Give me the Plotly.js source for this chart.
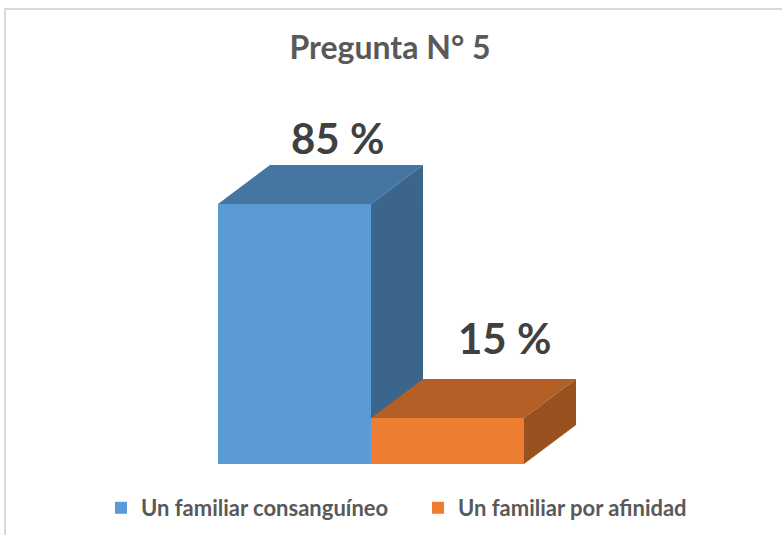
<!DOCTYPE html>
<html>
<head>
<meta charset="utf-8">
<script src="https://cdn.plot.ly/plotly-3.0.1.min.js"></script>
<style>html,body{margin:0;padding:0;background:#fff;}#chart{width:782px;height:535px;}</style>
</head>
<body>
<div id="chart"></div>
<script>
const categories = ["Un familiar consanguíneo", "Un familiar por afinidad"];
const values = [85, 15];
const valueLabels = ["85 %", "15 %"];
const frontColors = ["#5B9BD5", "#ED7D31"];
const topColors = ["#4576A2", "#B45F25"];
const sideColors = ["#3B658B", "#9A5120"];

// depth of the pseudo-3D box, in axis units
const dx = 0.34, dy = 12.75;

const traces = categories.map((c, i) => ({
  type: "bar",
  x: [i],
  y: [values[i]],
  width: 1,
  name: c,
  marker: {color: frontColors[i], line: {width: 0}},
  hoverinfo: "name+y"
}));

const shapes = [];
categories.forEach((c, i) => {
  const v = values[i], l = i - 0.5, r = i + 0.5;
  shapes.push({type: "path", xref: "x", yref: "y", layer: "below",
    path: `M${l},${v}L${r},${v}L${r+dx},${v+dy}L${l+dx},${v+dy}Z`,
    fillcolor: topColors[i], line: {width: 0}});
  shapes.push({type: "path", xref: "x", yref: "y", layer: "below",
    path: `M${r},0L${r},${v}L${r+dx},${v+dy}L${r+dx},${dy}Z`,
    fillcolor: sideColors[i], line: {width: 0}});
});
shapes.push({type: "rect", xref: "paper", yref: "paper",
  x0: 5/782, x1: 1.02, y0: -0.02, y1: 1 - 9/535,
  line: {color: "#D9D9D9", width: 2}, fillcolor: "rgba(0,0,0,0)", layer: "below"});

const labelXShift = [-9, 5];
const labelYShift = [27, 41];
const annotations = categories.map((c, i) => ({
  x: i + dx, y: values[i] + dy, xref: "x", yref: "y",
  text: valueLabels[i], showarrow: false,
  xanchor: "center", yanchor: "middle",
  xshift: labelXShift[i], yshift: labelYShift[i],
  font: {family: "Lato, 'Open Sans', sans-serif", size: 42, color: "#404040", weight: "bold"}
}));

const pxX = 153, pxY = 260/85;
const xr0 = -0.5 - 218/pxX, xr1 = xr0 + 782/pxX;
const yr0 = -(535-464)/pxY, yr1 = 464/pxY;

const layout = {
  width: 782, height: 535,
  margin: {l: 0, r: 0, t: 0, b: 0},
  paper_bgcolor: "#fff", plot_bgcolor: "rgba(0,0,0,0)",
  title: {text: "<b>Pregunta N° 5</b>", x: 390/782, xanchor: "center", y: 1 - 48/535, yanchor: "middle",
    font: {family: "Lato, 'Open Sans', sans-serif", size: 32, color: "#595959"}},
  xaxis: {range: [xr0, xr1], visible: false, fixedrange: true},
  yaxis: {range: [yr0, yr1], visible: false, fixedrange: true},
  showlegend: true,
  legend: {orientation: "h", x: 101/782, xanchor: "left", y: 1 - 508/535, yanchor: "middle",
    font: {family: "Lato, 'Open Sans', sans-serif", size: 22, color: "#595959", weight: "bold"},
    itemwidth: 30, entrywidth: 272,
    itemclick: false, itemdoubleclick: false, bgcolor: "rgba(0,0,0,0)"},
  shapes: shapes,
  annotations: annotations
};

Plotly.newPlot("chart", traces, layout, {displayModeBar: false, staticPlot: true});
</script>
</body>
</html>
